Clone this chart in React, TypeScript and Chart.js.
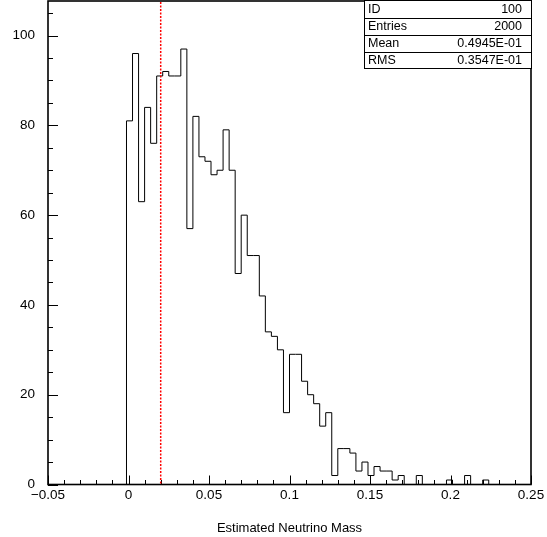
import React, { useEffect, useRef } from "react";
import { Chart, registerables } from "chart.js";

Chart.register(...registerables);

// ---- data ----
const X_MIN = -0.05;
const X_MAX = 0.25;
const BIN_COUNT = 80;
const COUNTS = [
  0, 0, 0, 0, 0, 0, 0, 0, 0, 0, 0, 0, 0,
  81, 96, 63, 84, 76, 91, 92, 91, 91, 97,
  57, 82, 73, 72, 69, 70, 79, 70, 47, 60,
  51, 51, 42, 34, 33, 30, 16, 29, 29, 23,
  20, 18, 13, 16, 2, 8, 8, 7, 3, 5,
  2, 4, 3, 3, 1, 2, 0, 0, 2, 0,
  0, 0, 0, 1, 0, 0, 2, 0, 0, 1,
  0, 0, 0, 0, 0, 0, 0,
];
const X_TICKS = [-0.05, 0, 0.05, 0.1, 0.15, 0.2, 0.25];
const X_TICK_LABELS = ["\u22120.05", "0", "0.05", "0.1", "0.15", "0.2", "0.25"];
const X_MINOR_STEP = 0.01;
const Y_TICKS = [0, 20, 40, 60, 80, 100];
const Y_TICK_LABELS = ["0", "20", "40", "60", "80", "100"];
const Y_MINOR_STEP = 5;
const Y_MAX = 107.7;
const MARKER_X = 0.02;
const X_TITLE = "Estimated Neutrino Mass";
const STATS_LABELS = ["ID", "Entries", "Mean", "RMS"];
const STATS_VALUES = ["100", "2000", "0.4945E-01", "0.3547E-01"];

const FONT_FAMILY = '"Liberation Sans", Arial, sans-serif';

export default function App() {
  const canvasRef = useRef<HTMLCanvasElement | null>(null);

  useEffect(() => {
    const canvas = canvasRef.current;
    if (!canvas) return;

    const binWidth = (X_MAX - X_MIN) / BIN_COUNT;
    const points = COUNTS.map((c, k) => ({ x: X_MIN + k * binWidth, y: c }));
    points.push({ x: X_MAX, y: COUNTS[COUNTS.length - 1] });

    const overlay = {
      id: "overlay",
      afterDatasetsDraw(chart: any) {
        const { ctx, chartArea: a, scales } = chart;
        const xs = scales.x;
        const ys = scales.y;
        ctx.save();

        // frame
        ctx.strokeStyle = "#000";
        ctx.lineWidth = 1.6;
        ctx.strokeRect(a.left, a.top, a.right - a.left, a.bottom - a.top);

        // x ticks (inward)
        ctx.lineWidth = 1;
        ctx.beginPath();
        for (let v = X_MIN; v <= X_MAX + 1e-9; v += X_MINOR_STEP) {
          const px = Math.round(xs.getPixelForValue(v)) + 0.5;
          const major = X_TICKS.some((t) => Math.abs(t - v) < 1e-6);
          const len = major ? 9 : 4.5;
          ctx.moveTo(px, a.bottom);
          ctx.lineTo(px, a.bottom - len);
        }
        // y ticks (inward)
        for (let v = 0; v <= Y_MAX; v += Y_MINOR_STEP) {
          const py = Math.round(ys.getPixelForValue(v)) + 0.5;
          const major = Y_TICKS.includes(v);
          const len = major ? 10 : 5;
          ctx.moveTo(a.left, py);
          ctx.lineTo(a.left + len, py);
        }
        ctx.stroke();

        // red dotted marker
        const rx = xs.getPixelForValue(MARKER_X);
        ctx.strokeStyle = "#ff0000";
        ctx.lineWidth = 1.5;
        ctx.setLineDash([2, 1.5]);
        ctx.beginPath();
        ctx.moveTo(rx, a.bottom - 1);
        ctx.lineTo(rx, a.top + 1);
        ctx.stroke();
        ctx.setLineDash([]);

        // stats box
        const bx = 364;
        const by = 0.5;
        const bw = a.right - bx;
        const rowH = 17;
        const bh = rowH * STATS_LABELS.length;
        ctx.fillStyle = "#fff";
        ctx.fillRect(bx, by, bw, bh);
        ctx.strokeStyle = "#000";
        ctx.lineWidth = 1;
        ctx.strokeRect(bx + 0.5, by, bw, bh);
        ctx.beginPath();
        for (let i = 1; i < STATS_LABELS.length; i++) {
          const ly = Math.round(by + rowH * i) + 0.5;
          ctx.moveTo(bx, ly);
          ctx.lineTo(bx + bw, ly);
        }
        ctx.stroke();
        ctx.fillStyle = "#000";
        ctx.font = `12.5px ${FONT_FAMILY}`;
        ctx.textBaseline = "middle";
        STATS_LABELS.forEach((lab, i) => {
          const cy = by + rowH * i + rowH / 2 + 1;
          ctx.textAlign = "left";
          ctx.fillText(lab, bx + 4, cy);
          ctx.textAlign = "right";
          ctx.fillText(STATS_VALUES[i], a.right - 9, cy);
        });

        ctx.restore();
      },
    };

    const tickFont = { family: FONT_FAMILY, size: 13.5 };

    const chart = new Chart(canvas, {
      type: "line",
      data: {
        datasets: [
          {
            data: points,
            stepped: true,
            borderColor: "#000",
            borderWidth: 1,
            pointRadius: 0,
            fill: false,
          },
        ],
      },
      options: {
        animation: false,
        responsive: false,
        parsing: false as any,
        layout: { padding: { left: 0, right: 16, top: 1, bottom: 0 } },
        plugins: {
          legend: { display: false },
          tooltip: { enabled: false },
        },
        scales: {
          x: {
            type: "linear",
            min: X_MIN,
            max: X_MAX,
            grid: { display: false, drawTicks: false },
            border: { display: false },
            afterBuildTicks: (s: any) => {
              s.ticks = X_TICKS.map((v) => ({ value: v }));
            },
            afterFit: (s: any) => {
              s.height = 52.5;
              s.paddingLeft = 0;
              s.paddingRight = 0;
              s.paddingTop = 0;
              s.paddingBottom = 0;
            },
            ticks: {
              callback: (_v: any, i: number) => X_TICK_LABELS[i],
              font: tickFont,
              color: "#000",
              padding: 3,
              maxRotation: 0,
              autoSkip: false,
            },
            title: {
              display: true,
              text: X_TITLE,
              font: { family: FONT_FAMILY, size: 13 },
              color: "#000",
              padding: { top: 0, bottom: 1 },
            },
          },
          y: {
            type: "linear",
            min: 0,
            max: Y_MAX,
            grid: { display: false, drawTicks: false },
            border: { display: false },
            afterBuildTicks: (s: any) => {
              s.ticks = Y_TICKS.map((v) => ({ value: v }));
            },
            afterFit: (s: any) => {
              s.width = 48;
              s.paddingLeft = 0;
              s.paddingRight = 0;
              s.paddingTop = 0;
              s.paddingBottom = 0;
            },
            ticks: {
              callback: (_v: any, i: number) => Y_TICK_LABELS[i],
              font: tickFont,
              color: "#000",
              padding: 13,
              autoSkip: false,
            },
          },
        },
      },
      plugins: [overlay],
    });

    return () => chart.destroy();
  }, []);

  return (
    <div style={{ position: "fixed", left: 0, top: 0, width: 547, height: 537, background: "#fff" }}>
      <canvas ref={canvasRef} width={547} height={537} style={{ display: "block" }} />
    </div>
  );
}
